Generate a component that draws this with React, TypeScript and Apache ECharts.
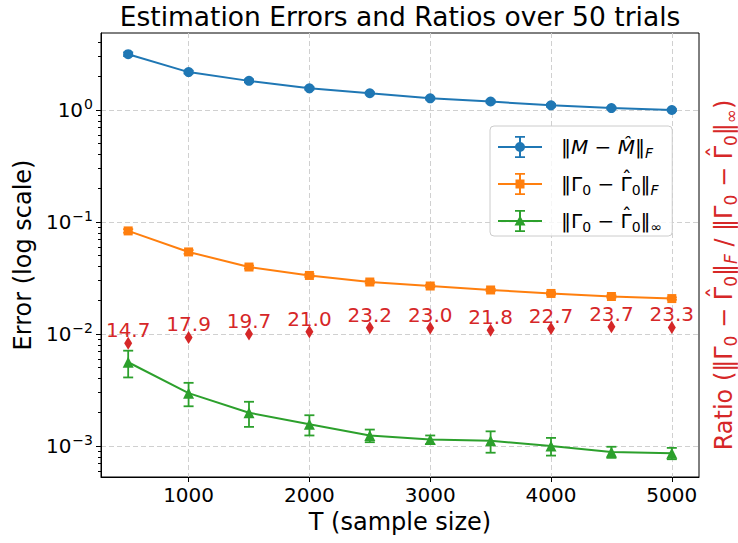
import React, { useEffect, useRef } from 'react';
import * as echarts from 'echarts';

const FONT = 'DejaVu Sans';

const sampleSizes = [500, 1000, 1500, 2000, 2500, 3000, 3500, 4000, 4500, 5000];
const errM = [3.15, 2.18, 1.82, 1.56, 1.41, 1.27, 1.19, 1.10, 1.04, 1.0];
const errMStd = [0.12, 0.06, 0.05, 0.04, 0.03, 0.03, 0.03, 0.03, 0.02, 0.02];
const errGF = [0.0832, 0.054, 0.0396, 0.0333, 0.0291, 0.0268, 0.0247, 0.023, 0.0216, 0.0207];
const errGFStd = [0.003, 0.002, 0.0012, 0.001, 0.0008, 0.0007, 0.0006, 0.0006, 0.0005, 0.0005];
const errGInf = [0.00559, 0.00296, 0.00198, 0.00156, 0.00124, 0.00114, 0.00111, 0.001, 0.000883, 0.000861];
const errGInfStd = [0.0015, 0.0007, 0.0005, 0.00032, 0.00016, 0.0001, 0.00024, 0.00018, 0.0001, 0.0001];
const ratios = [14.7, 17.9, 19.7, 21.0, 23.2, 23.0, 21.8, 22.7, 23.7, 23.3];

const xTicks = [1000, 2000, 3000, 4000, 5000];
const yDecades = [-3, -2, -1, 0];

const X_MIN = 275;
const X_MAX = 5225;
const Y_MIN = Math.log10(5.28e-4);
const Y_MAX = Math.log10(4.87);
const R_MIN = -57.8;
const R_MAX = 183;

const BLUE = '#1f77b4';
const ORANGE = '#ff7f0e';
const GREEN = '#2ca02c';
const RED = '#d62728';

const minorTicks: number[] = [];
for (let d = -4; d <= 0; d++) {
  for (let k = 2; k <= 9; k++) {
    const v = d + Math.log10(k);
    if (v > Y_MIN && v < Y_MAX) minorTicks.push(v);
  }
}

const legendLabels: Record<string, string> = {
  M: '{n|‖}{i|M}{n| − }{i|M\u0302}{n|‖}{si|F}',
  GF: '{n|‖Γ}{s|0}{n| − Γ}{h|ˆ}{s|0}{n|‖}{si|F}',
  GI: '{n|‖Γ}{s|0}{n| − Γ}{h|ˆ}{s|0}{n|‖}{s|∞}',
};

const base = 'M0,10 L44,10 L44,12 L0,12 Z M21,0 L23,0 L23,22 L21,22 Z M17,0 L27,0 L27,1.8 L17,1.8 Z M17,20.2 L27,20.2 L27,22 L17,22 Z ';
const iconCircle = 'path://' + base + 'M27,11 A5,5 0 1,1 17,11 A5,5 0 1,1 27,11 Z';
const iconSquare = 'path://' + base + 'M17.5,6.5 L26.5,6.5 L26.5,15.5 L17.5,15.5 Z';
const iconTri = 'path://' + base + 'M22,5.5 L27.5,15.5 L16.5,15.5 Z';

function errorBars(name: string, vals: number[], std: number[], color: string) {
  return {
    type: 'custom',
    name,
    z: 2,
    silent: true,
    data: sampleSizes.map((t, i) => [t, Math.log10(vals[i] - std[i]), Math.log10(vals[i] + std[i])]),
    encode: { x: 0, y: [1, 2] },
    renderItem: (_p: any, api: any) => {
      const x = api.value(0);
      const lo = api.coord([x, api.value(1)]);
      const hi = api.coord([x, api.value(2)]);
      const hw = 5;
      const style = { stroke: color, lineWidth: 1.8 };
      return {
        type: 'group',
        children: [
          { type: 'line', shape: { x1: lo[0], y1: lo[1], x2: hi[0], y2: hi[1] }, style },
          { type: 'line', shape: { x1: lo[0] - hw, y1: lo[1], x2: lo[0] + hw, y2: lo[1] }, style },
          { type: 'line', shape: { x1: hi[0] - hw, y1: hi[1], x2: hi[0] + hw, y2: hi[1] }, style },
        ],
      };
    },
  };
}

function lineSeries(name: string, vals: number[], color: string, symbol: string, size: number) {
  return {
    type: 'line',
    name,
    z: 3,
    data: sampleSizes.map((t, i) => [t, Math.log10(vals[i])]),
    symbol,
    symbolSize: size,
    showAllSymbol: true,
    itemStyle: { color, opacity: 1 },
    lineStyle: { color, width: 2 },
  };
}

const richSub = {
  n: { fontSize: 20, fontFamily: FONT },
  i: { fontSize: 20, fontFamily: FONT, fontStyle: 'italic' },
  h: { fontSize: 20, fontFamily: FONT, padding: [0, 0, 12, -10] },
  s: { fontSize: 14, fontFamily: FONT, padding: [12, 0, 0, 0] },
  si: { fontSize: 14, fontFamily: FONT, fontStyle: 'italic', padding: [12, 0, 0, 0] },
};

const richSubRed = {
  n: { fontSize: 24, fontFamily: FONT, color: RED },
  i: { fontSize: 24, fontFamily: FONT, color: RED, fontStyle: 'italic' },
  h: { fontSize: 24, fontFamily: FONT, color: RED, padding: [0, 0, 14, -12] },
  s: { fontSize: 17, fontFamily: FONT, color: RED, padding: [14, 0, 0, 0] },
  si: { fontSize: 17, fontFamily: FONT, color: RED, fontStyle: 'italic', padding: [14, 0, 0, 0] },
};

export default function App() {
  const ref = useRef<HTMLDivElement>(null);
  useEffect(() => {
    if (!ref.current) return;
    const chart = echarts.init(ref.current, undefined, { renderer: 'svg' });
    const option: any = {
      animation: false,
      textStyle: { fontFamily: FONT },
      grid: {
        left: 101, top: 33, right: 39, bottom: 66,
        containLabel: false, outerBoundsMode: 'none',
        show: true, borderColor: '#000', borderWidth: 1, backgroundColor: 'transparent',
      },
      graphic: [
        {
          type: 'text', x: 400, y: 3, z: 10,
          style: {
            text: 'Estimation Errors and Ratios over 50 trials',
            fontSize: 26.5, fontFamily: FONT, fill: '#000',
            align: 'center', verticalAlign: 'top', textAlign: 'center', textVerticalAlign: 'top',
          },
        },
      ],
      xAxis: {
        type: 'value', min: X_MIN, max: X_MAX,
        axisLine: { show: true, onZero: false, lineStyle: { color: '#000', width: 1 } },
        axisTick: { show: true, customValues: xTicks, length: 5, lineStyle: { color: '#000' } },
        axisLabel: {
          customValues: xTicks, fontSize: 20, color: '#000', margin: 8, fontFamily: FONT,
          formatter: (v: number) => String(v),
        },
        splitLine: { show: true, lineStyle: { color: '#d0d0d0', type: [5, 3], width: 1 } },
        name: 'T (sample size)', nameLocation: 'middle', nameGap: 32,
        nameTextStyle: { fontSize: 24, color: '#000', fontFamily: FONT },
      },
      yAxis: [
        {
          type: 'value', min: Y_MIN, max: Y_MAX, position: 'left',
          axisLine: { show: true, onZero: false, lineStyle: { color: '#000', width: 1 } },
          axisTick: { show: true, customValues: yDecades, length: 5, lineStyle: { color: '#000' } },
          axisLabel: {
            customValues: yDecades, margin: 8, color: '#000',
            formatter: (v: number) => {
              const e = Math.round(v);
              const s = e < 0 ? '\u2212' + String(-e) : String(e);
              return '{b|10}{s|' + s + '}';
            },
            rich: {
              b: { fontSize: 20, fontFamily: FONT, color: '#000' },
              s: { fontSize: 14, fontFamily: FONT, color: '#000', padding: [0, 0, 12, 1] },
            },
          },
          splitLine: { show: true, lineStyle: { color: '#d0d0d0', type: [5, 3], width: 1 } },
          name: 'Error (log scale)', nameLocation: 'middle', nameGap: 66, nameRotate: 90,
          nameTextStyle: { fontSize: 24, color: '#000', fontFamily: FONT },
        },
        {
          type: 'value', min: Y_MIN, max: Y_MAX, position: 'left',
          axisLine: { show: false, onZero: false },
          axisTick: { show: true, customValues: minorTicks, length: 3, lineStyle: { color: '#000' } },
          axisLabel: { show: false },
          splitLine: { show: false },
        },
        {
          type: 'value', min: R_MIN, max: R_MAX, position: 'right',
          axisLine: { show: false, onZero: false },
          axisTick: { show: false },
          axisLabel: { show: false },
          splitLine: { show: false },
          name: '{n|Ratio (‖Γ}{s|0}{n| − Γ}{h|ˆ}{s|0}{n|‖}{si|F}{n| / ‖Γ}{s|0}{n| − Γ}{h|ˆ}{s|0}{n|‖}{s|∞}{n|)}',
          nameLocation: 'middle', nameGap: 6, nameRotate: 90,
          nameTextStyle: { fontSize: 24, color: RED, fontFamily: FONT, rich: richSubRed, padding: [0, 40, 0, 0] },
        },
      ],
      legend: {
        orient: 'vertical', left: 490, top: 126,
        data: [
          { name: 'M', icon: iconCircle },
          { name: 'GF', icon: iconSquare },
          { name: 'GI', icon: iconTri },
        ],
        itemWidth: 44, itemHeight: 22, itemGap: 8,
        padding: [10, 10, 2, 8],
        backgroundColor: 'rgba(255,255,255,0.8)', borderColor: '#cccccc', borderWidth: 1, borderRadius: 4,
        selectedMode: false,
        formatter: (name: string) => legendLabels[name],
        textStyle: { fontSize: 20, color: '#000', fontFamily: FONT, padding: [0, 0, 0, 14], rich: richSub },
        itemStyle: { borderWidth: 0 },
        lineStyle: { width: 0 },
      },
      series: [
        errorBars('M_err', errM, errMStd, BLUE),
        errorBars('GF_err', errGF, errGFStd, ORANGE),
        errorBars('GI_err', errGInf, errGInfStd, GREEN),
        lineSeries('M', errM, BLUE, 'circle', 10),
        lineSeries('GF', errGF, ORANGE, 'rect', 9),
        lineSeries('GI', errGInf, GREEN, 'triangle', 11),
        {
          type: 'scatter', name: 'ratio', yAxisIndex: 2, z: 4,
          data: sampleSizes.map((t, i) => [t, ratios[i]]),
          symbol: 'diamond', symbolSize: [8, 13],
          itemStyle: { color: RED, opacity: 1 },
          label: {
            show: true, position: 'inside', offset: [0, -13],
            formatter: (p: any) => p.value[1].toFixed(1),
            fontSize: 20, color: RED, fontFamily: FONT, opacity: 1,
          },
        },
      ],
    };
    chart.setOption(option);
    return () => chart.dispose();
  }, []);
  return <div ref={ref} style={{ width: 738, height: 543, position: 'absolute', left: 0, top: 0 }} />;
}
